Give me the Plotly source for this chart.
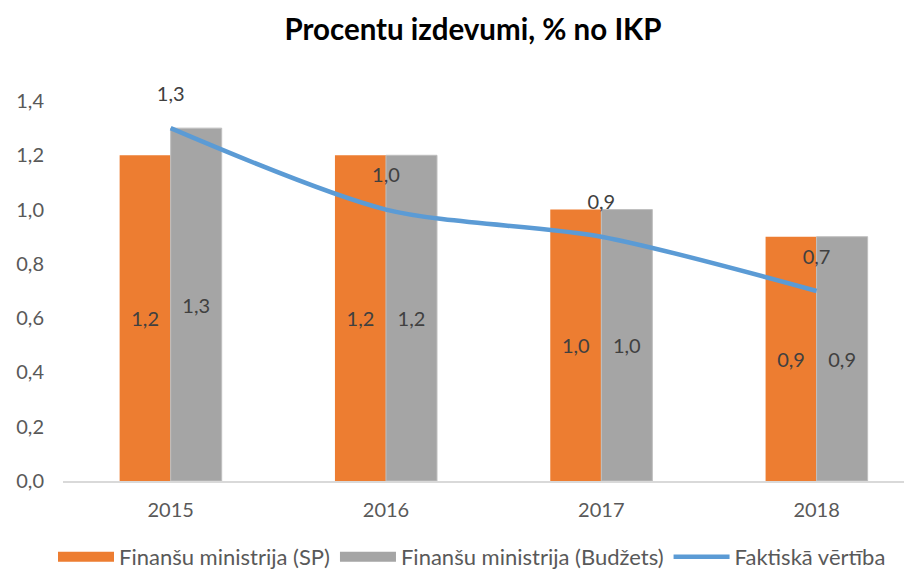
import plotly.graph_objects as go

years = ["2015", "2016", "2017", "2018"]
sp_values = [1.2, 1.2, 1.0, 0.9]
budget_values = [1.3, 1.2, 1.0, 0.9]
actual_values = [1.3, 1.0, 0.9, 0.7]
y_ticks = [0.0, 0.2, 0.4, 0.6, 0.8, 1.0, 1.2, 1.4]

ORANGE = "#ED7D31"
GRAY = "#A5A5A5"
BLUE = "#5B9BD5"
FONT = "Lato"
label_font = dict(family=FONT, size=20, color="#404040")

# The page body has an 8px margin, so the figure is laid out in a 904x564 box.
W, H = 904, 564

fig = go.Figure()
fig.add_trace(go.Bar(
    x=years, y=sp_values, name="Finanšu ministrija (SP)", showlegend=False,
    marker=dict(color=ORANGE, line=dict(width=0)),
    texttemplate="%{y:.1f}", textposition="inside", insidetextanchor="middle",
    textfont=label_font, textangle=0,
))
fig.add_trace(go.Bar(
    x=years, y=budget_values, name="Finanšu ministrija (Budžets)", showlegend=False,
    marker=dict(color=GRAY, line=dict(width=1, color="#BFBFBF")),
    texttemplate="%{y:.1f}", textposition="inside", insidetextanchor="middle",
    textfont=label_font, textangle=0,
))
fig.add_trace(go.Scatter(
    x=years, y=actual_values, name="Faktiskā vērtība", showlegend=False,
    mode="lines+markers+text", cliponaxis=False,
    line=dict(color=BLUE, width=4.5, shape="spline", smoothing=0.8),
    marker=dict(size=34, opacity=0),
    texttemplate="%{y:.1f}", textposition="top center", textfont=label_font,
))
# legend entries (wide swatches like the original)
for name, color, width in [("Finanšu ministrija (SP)", ORANGE, 15),
                           ("Finanšu ministrija (Budžets)", GRAY, 15),
                           ("Faktiskā vērtība", BLUE, 4.5)]:
    fig.add_trace(go.Scatter(x=[None], y=[None], mode="lines", name=name,
                             line=dict(color=color, width=width), showlegend=True))

fig.update_layout(
    width=W, height=H,
    margin=dict(l=55, r=0, t=93, b=91),
    paper_bgcolor="white", plot_bgcolor="white",
    separators=", ",
    barmode="group", bargap=0.526, bargroupgap=0,
    title=dict(text="<b>Procentu izdevumi, % no IKP</b>", x=465 / W, xanchor="center",
               xref="container", y=1 - 22 / H, yanchor="middle", yref="container",
               font=dict(family=FONT, size=29.5, color="#000000")),
    legend=dict(orientation="h", xref="container", yref="container",
                x=45 / W, xanchor="left", y=1 - 549 / H, yanchor="middle",
                font=dict(family=FONT, size=22, color="#595959"), itemwidth=56,
                traceorder="normal"),
    showlegend=True,
    hovermode=False,
)
fig.update_xaxes(range=[-0.5, 3.443], showline=True, linecolor="#D9D9D9", linewidth=1.5,
                 ticks="", ticklabelstandoff=10,
                 tickfont=dict(family=FONT, size=20, color="#595959"),
                 showgrid=False, fixedrange=True)
fig.update_yaxes(range=[0, 1.4], tickvals=y_ticks, tickformat=".1f", showgrid=False,
                 zeroline=False, showline=False, ticks="", ticklabelstandoff=18,
                 tickfont=dict(family=FONT, size=20, color="#595959"), fixedrange=True)

fig.write_html("out.html")
